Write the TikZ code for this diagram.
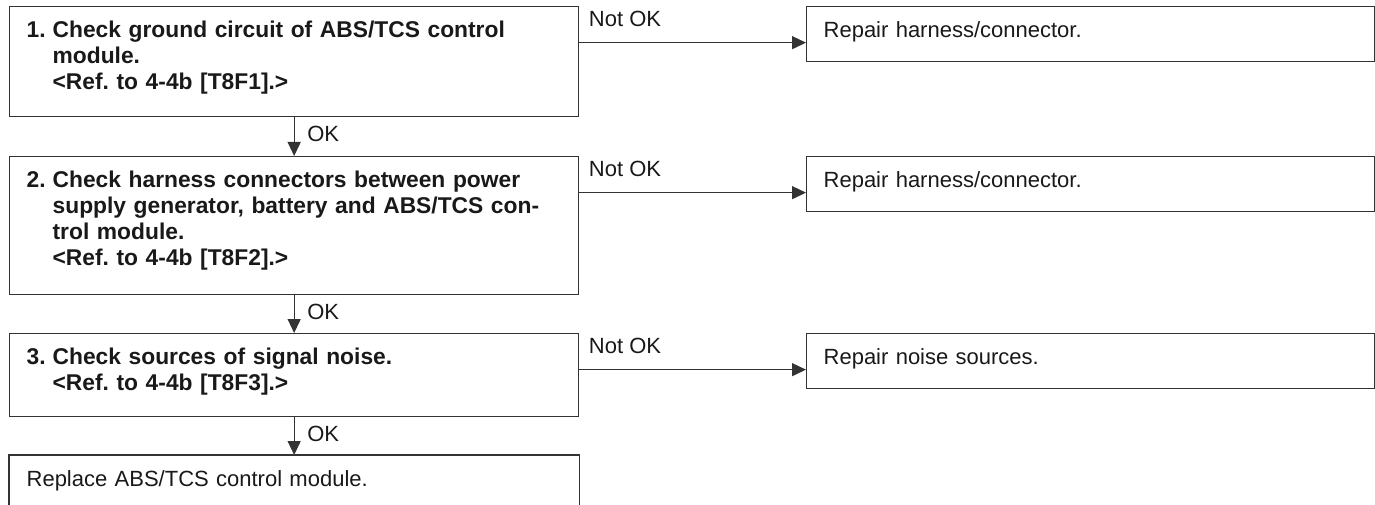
\documentclass[tikz,border=0pt]{standalone}
\usepackage{fontspec}
\setmainfont{Liberation Sans}
\usetikzlibrary{arrows.meta,calc}
\frenchspacing
\begin{document}
\begin{tikzpicture}[x=1pt,y=1pt,
  every node/.style={text=black!90},
  box/.style={draw=black!80, line width=1.3pt, anchor=north west, inner xsep=17pt, inner ysep=12.8pt, text height=18.2pt, font=\fontsize{22}{26}\selectfont\frenchspacing},
  qbox/.style={box, font=\fontsize{22.8}{26}\selectfont\bfseries\frenchspacing},
  edge3/.style={draw=black!80, line width=1.3pt},
  lbl/.style={anchor=base west, inner sep=0pt, font=\fontsize{22}{26}\selectfont},
  arr/.style={draw=black!80, line width=1.3pt, -{Triangle[length=14pt,width=13pt]}},
]
\useasboundingbox (0,0) rectangle (1375,-505);
% question boxes
\node[qbox, text width=535pt, text depth=66.2pt] (b1) at (9,-6) {\begin{tabular}[t]{@{}p{26pt}@{}l@{}}1.&Check ground circuit of ABS/TCS control\\&module.\\&<Ref. to 4-4b [T8F1].>\end{tabular}};
\node[qbox, text width=535pt, text depth=94.2pt] (b2) at (9,-156) {\begin{tabular}[t]{@{}p{26pt}@{}l@{}}2.&Check harness connectors between power\\&supply generator, battery and ABS/TCS con-\\&trol module.\\&<Ref. to 4-4b [T8F2].>\end{tabular}};
\node[qbox, text width=535pt, text depth=39.2pt] (b3) at (9,-333) {\begin{tabular}[t]{@{}p{26pt}@{}l@{}}3.&Check sources of signal noise.\\&<Ref. to 4-4b [T8F3].>\end{tabular}};
\node[box, draw=none, text width=535pt, text depth=6.2pt] (b4) at (9,-455) {Replace ABS/TCS control module.};
\draw[edge3] (b4.south west) |- (b4.north east) -- (b4.south east);
% repair boxes
\node[box, text width=534pt, text depth=11.2pt] (r1) at (806,-6) {Repair harness/connector.};
\node[box, text width=534pt, text depth=11.2pt] (r2) at (806,-156) {Repair harness/connector.};
\node[box, text width=534pt, text depth=11.2pt] (r3) at (806,-333) {Repair noise sources.};
% OK arrows
\draw[arr] (b1.south) -- (b2.north) node[lbl, pos=0, xshift=12.5pt, yshift=-24pt] (ok1) {OK};
\draw[arr] (b2.south) -- (b3.north) node[lbl, pos=0, xshift=12.5pt, yshift=-24pt] (ok2) {OK};
\draw[arr] (b3.south) -- (b4.north) node[lbl, pos=0, xshift=12.5pt, yshift=-24pt] (ok3) {OK};
% Not OK arrows
\coordinate (a1) at ($(r1.west)+(0,-8.5)$);
\coordinate (a2) at ($(r2.west)+(0,-8.5)$);
\coordinate (a3) at ($(r3.west)+(0,-8.5)$);
\draw[arr] (b1.east |- a1) -- (a1) node[lbl, pos=0, xshift=9pt, yshift=16pt] (n1) {Not OK};
\draw[arr] (b2.east |- a2) -- (a2) node[lbl, pos=0, xshift=9pt, yshift=16pt] (n2) {Not OK};
\draw[arr] (b3.east |- a3) -- (a3) node[lbl, pos=0, xshift=9pt, yshift=16pt] (n3) {Not OK};
\end{tikzpicture}
\end{document}
